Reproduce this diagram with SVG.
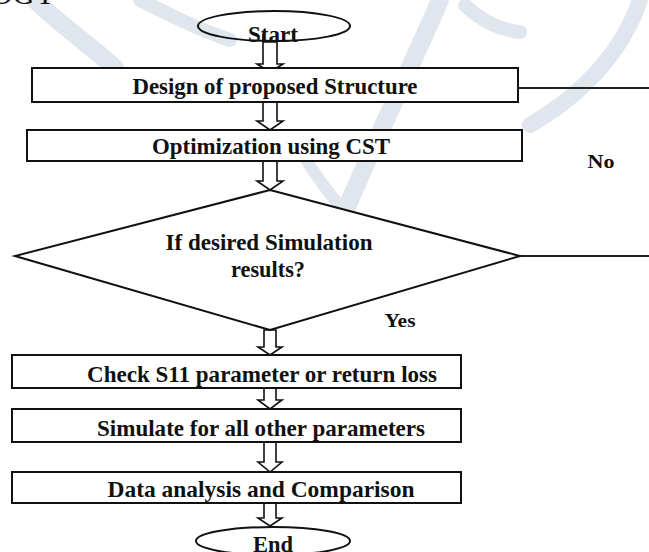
<svg xmlns="http://www.w3.org/2000/svg" width="649" height="552" viewBox="0 0 649 552">
<style>
.box{fill:#fff;stroke:#111;stroke-width:2}
.arr{fill:#fff;stroke:#111;stroke-width:1.6;stroke-linejoin:miter}
.ln{fill:none;stroke:#222;stroke-width:2}
.t{font-family:"Liberation Serif","Times New Roman",serif;font-weight:bold;fill:#111;text-anchor:middle;font-size:23px}
.wm{fill:none;stroke:#dfe6ed;stroke-linecap:round}
</style>
<rect width="649" height="552" fill="#fff"/>
<g id="watermark">
<path class="wm" stroke-width="18" d="M35,0 C60,25 90,45 115,68"/>
<path class="wm" stroke-width="18" d="M440,0 C410,70 375,140 345,212"/>
<path class="wm" stroke-width="12" d="M300,150 C315,175 330,195 345,212"/>
<path class="wm" stroke-width="16" d="M640,0 C625,45 590,90 530,125"/>
<path class="wm" stroke-width="14" d="M465,5 C480,20 500,30 520,32"/>
<path class="wm" stroke-width="14" d="M140,0 C170,15 200,30 230,40"/>
</g>
<text x="-9" y="4" style="font-family:'Liberation Serif',serif;font-size:30px;fill:#111">OGY</text>
<g id="connectors">
<polygon class="arr" points="263,42 263,64 257,64 270,72 283,64 277,64 277,42"/>
<polygon class="arr" points="263,102 263,121 257,121 270,130 283,121 277,121 277,102"/>
<polygon class="arr" points="263,161 263,181 257,181 270,190 283,181 277,181 277,161"/>
<polygon class="arr" points="264,330 264,347 258,347 270,355 282,347 276,347 276,330"/>
<polygon class="arr" points="264,388 264,400 258,400 270,409 282,400 276,400 276,388"/>
<polygon class="arr" points="264,442 264,462 258,462 270,472 282,462 276,462 276,442"/>
<polygon class="arr" points="264,503 264,518 258,518 270,526 282,518 276,518 276,503"/>
<line class="ln" x1="518" y1="88" x2="649" y2="88"/>
<line class="ln" x1="520" y1="256" x2="649" y2="256"/>
<text class="t" x="601" y="168" style="font-size:19px" textLength="27" lengthAdjust="spacingAndGlyphs">No</text>
<text class="t" x="400" y="327" style="font-size:19px" textLength="31" lengthAdjust="spacingAndGlyphs">Yes</text>
</g>
<g id="start">
<ellipse class="box" cx="274" cy="26" rx="76" ry="15" style="fill:none"/>
<line x1="263" y1="34" x2="263" y2="42" stroke="#111" stroke-width="1.6"/>
<line x1="277" y1="34" x2="277" y2="42" stroke="#111" stroke-width="1.6"/>
<text class="t" x="273" y="42" textLength="50" lengthAdjust="spacingAndGlyphs">Start</text>
</g>
<g id="design">
<rect class="box" x="32" y="68" width="486" height="34"/>
<text class="t" x="275" y="94" textLength="285" lengthAdjust="spacingAndGlyphs">Design of proposed Structure</text>
</g>
<g id="optimization">
<rect class="box" x="27" y="130" width="495" height="31"/>
<text class="t" x="271" y="154" textLength="238" lengthAdjust="spacingAndGlyphs">Optimization using CST</text>
</g>
<g id="decision">
<polygon class="box" points="270,190 520,256 270,330 15,256"/>
<text class="t" x="269" y="250" textLength="207" lengthAdjust="spacingAndGlyphs">If desired Simulation</text>
<text class="t" x="268" y="277" textLength="74" lengthAdjust="spacingAndGlyphs">results?</text>
</g>
<g id="check">
<rect class="box" x="12" y="355" width="449" height="33"/>
<text class="t" x="262" y="382" textLength="350" lengthAdjust="spacingAndGlyphs">Check S11 parameter or return loss</text>
</g>
<g id="simulate">
<rect class="box" x="12" y="409" width="449" height="33"/>
<text class="t" x="261" y="436" textLength="328" lengthAdjust="spacingAndGlyphs">Simulate for all other parameters</text>
</g>
<g id="data">
<rect class="box" x="12" y="472" width="449" height="31"/>
<text class="t" x="261" y="497" textLength="307" lengthAdjust="spacingAndGlyphs">Data  analysis and Comparison</text>
</g>
<g id="end">
<ellipse class="box" cx="273" cy="541" rx="77" ry="14"/>
<text class="t" x="273" y="552" textLength="40" lengthAdjust="spacingAndGlyphs">End</text>
</g>
</svg>
